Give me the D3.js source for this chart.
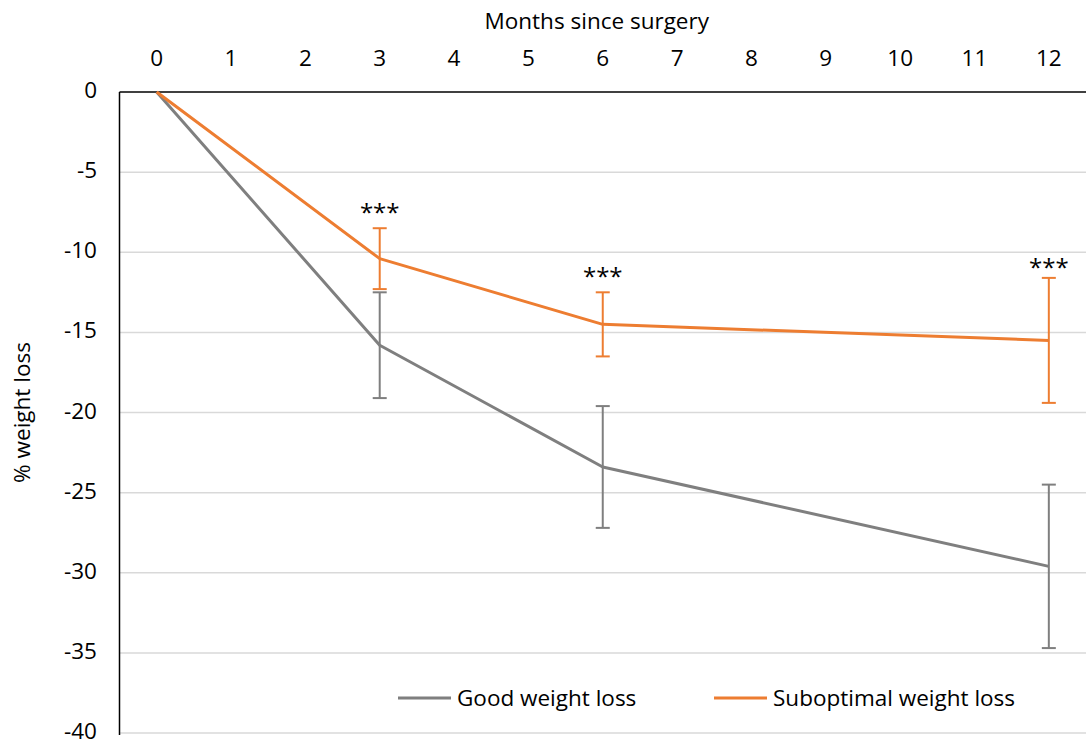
<!DOCTYPE html>
<html><head><meta charset="utf-8">
<script src="https://cdn.jsdelivr.net/npm/d3@7"></script>
<style>body{margin:0;background:#fff;} text{font-family:"Open Sans",Lato,sans-serif;fill:#000;}</style>
</head><body><svg id="c" width="1087" height="742"></svg>
<script>
const months = [0, 3, 6, 12];
const xTicks = [0,1,2,3,4,5,6,7,8,9,10,11,12];
const yTicks = [0,-5,-10,-15,-20,-25,-30,-35,-40];
const goodMean = [0, -15.8, -23.4, -29.6];
const goodLow  = [null, -19.1, -27.2, -34.7];
const goodHigh = [null, -12.5, -19.6, -24.5];
const subMean  = [0, -10.4, -14.5, -15.5];
const subLow   = [null, -12.3, -16.5, -19.4];
const subHigh  = [null, -8.5, -12.5, -11.6];
const sigMonths = [3, 6, 12];
const sigLabels = ["***", "***", "***"];
const sigY = [-7.2, -11.2, -10.6];
const seriesNames = ["Good weight loss", "Suboptimal weight loss"];
const colors = ["#7f7f7f", "#ed7d31"];

const svg = d3.select("#c");
const x = d3.scaleLinear().domain([-0.5, 12.5]).range([119.5, 1086]);
const y = d3.scaleLinear().domain([0, -40]).range([92, 733]);
const fs = 22.5;

// gridlines
svg.append("g").selectAll("line").data(yTicks.filter(d => d !== 0)).join("line")
  .attr("x1", x(-0.5)).attr("x2", x(12.5)).attr("y1", d => y(d)).attr("y2", d => y(d))
  .attr("stroke", "#d9d9d9").attr("stroke-width", 1.5);

// axes
svg.append("line").attr("x1", x(-0.5)).attr("x2", x(12.5)).attr("y1", y(0)).attr("y2", y(0)).attr("stroke", "#000").attr("stroke-width", 1.5);
svg.append("line").attr("x1", x(-0.5)).attr("x2", x(-0.5)).attr("y1", y(0)).attr("y2", y(-40)+2).attr("stroke", "#000").attr("stroke-width", 1.5);

// tick labels
svg.append("g").selectAll("text").data(xTicks).join("text")
  .attr("x", d => x(d)).attr("y", 66).attr("text-anchor", "middle").attr("font-size", fs).text(d => d);
svg.append("g").selectAll("text").data(yTicks).join("text")
  .attr("x", 97).attr("y", d => y(d) + 6).attr("text-anchor", "end").attr("font-size", fs).text(d => d);

svg.append("text").attr("x", x(6) - 6).attr("y", 29).attr("text-anchor", "middle").attr("font-size", fs).text("Months since surgery");
svg.append("text").attr("transform", `translate(30,${y(-20)}) rotate(-90)`).attr("text-anchor", "middle").attr("font-size", fs).text("% weight loss");

const line = d3.line().x(d => x(d[0])).y(d => y(d[1]));
const series = [
  {mean: goodMean, low: goodLow, high: goodHigh, color: colors[0]},
  {mean: subMean, low: subLow, high: subHigh, color: colors[1]}
];

series.forEach(s => {
  svg.append("path").datum(months.map((m, i) => [m, s.mean[i]]))
    .attr("d", line).attr("fill", "none").attr("stroke", s.color).attr("stroke-width", 3).attr("stroke-linejoin", "round");
});
series.forEach(s => {
  const g = svg.append("g").attr("stroke", s.color).attr("stroke-width", 2);
  months.forEach((m, i) => {
    if (s.low[i] === null) return;
    g.append("line").attr("x1", x(m)).attr("x2", x(m)).attr("y1", y(s.low[i])).attr("y2", y(s.high[i]));
    g.append("line").attr("x1", x(m) - 7).attr("x2", x(m) + 7).attr("y1", y(s.low[i])).attr("y2", y(s.low[i]));
    g.append("line").attr("x1", x(m) - 7).attr("x2", x(m) + 7).attr("y1", y(s.high[i])).attr("y2", y(s.high[i]));
  });
});

svg.append("g").selectAll("text").data(sigMonths).join("text")
  .attr("x", d => x(d)).attr("y", (d, i) => y(sigY[i]) + 14).attr("text-anchor", "middle").attr("font-size", 24).text((d, i) => sigLabels[i]);

// legend
const legX = [398, 714];
seriesNames.forEach((n, i) => {
  svg.append("line").attr("x1", legX[i]).attr("x2", legX[i] + 53).attr("y1", 698).attr("y2", 698).attr("stroke", colors[i]).attr("stroke-width", 3);
  svg.append("text").attr("x", legX[i] + 59).attr("y", 706).attr("font-size", fs).text(n);
});
</script></body></html>
